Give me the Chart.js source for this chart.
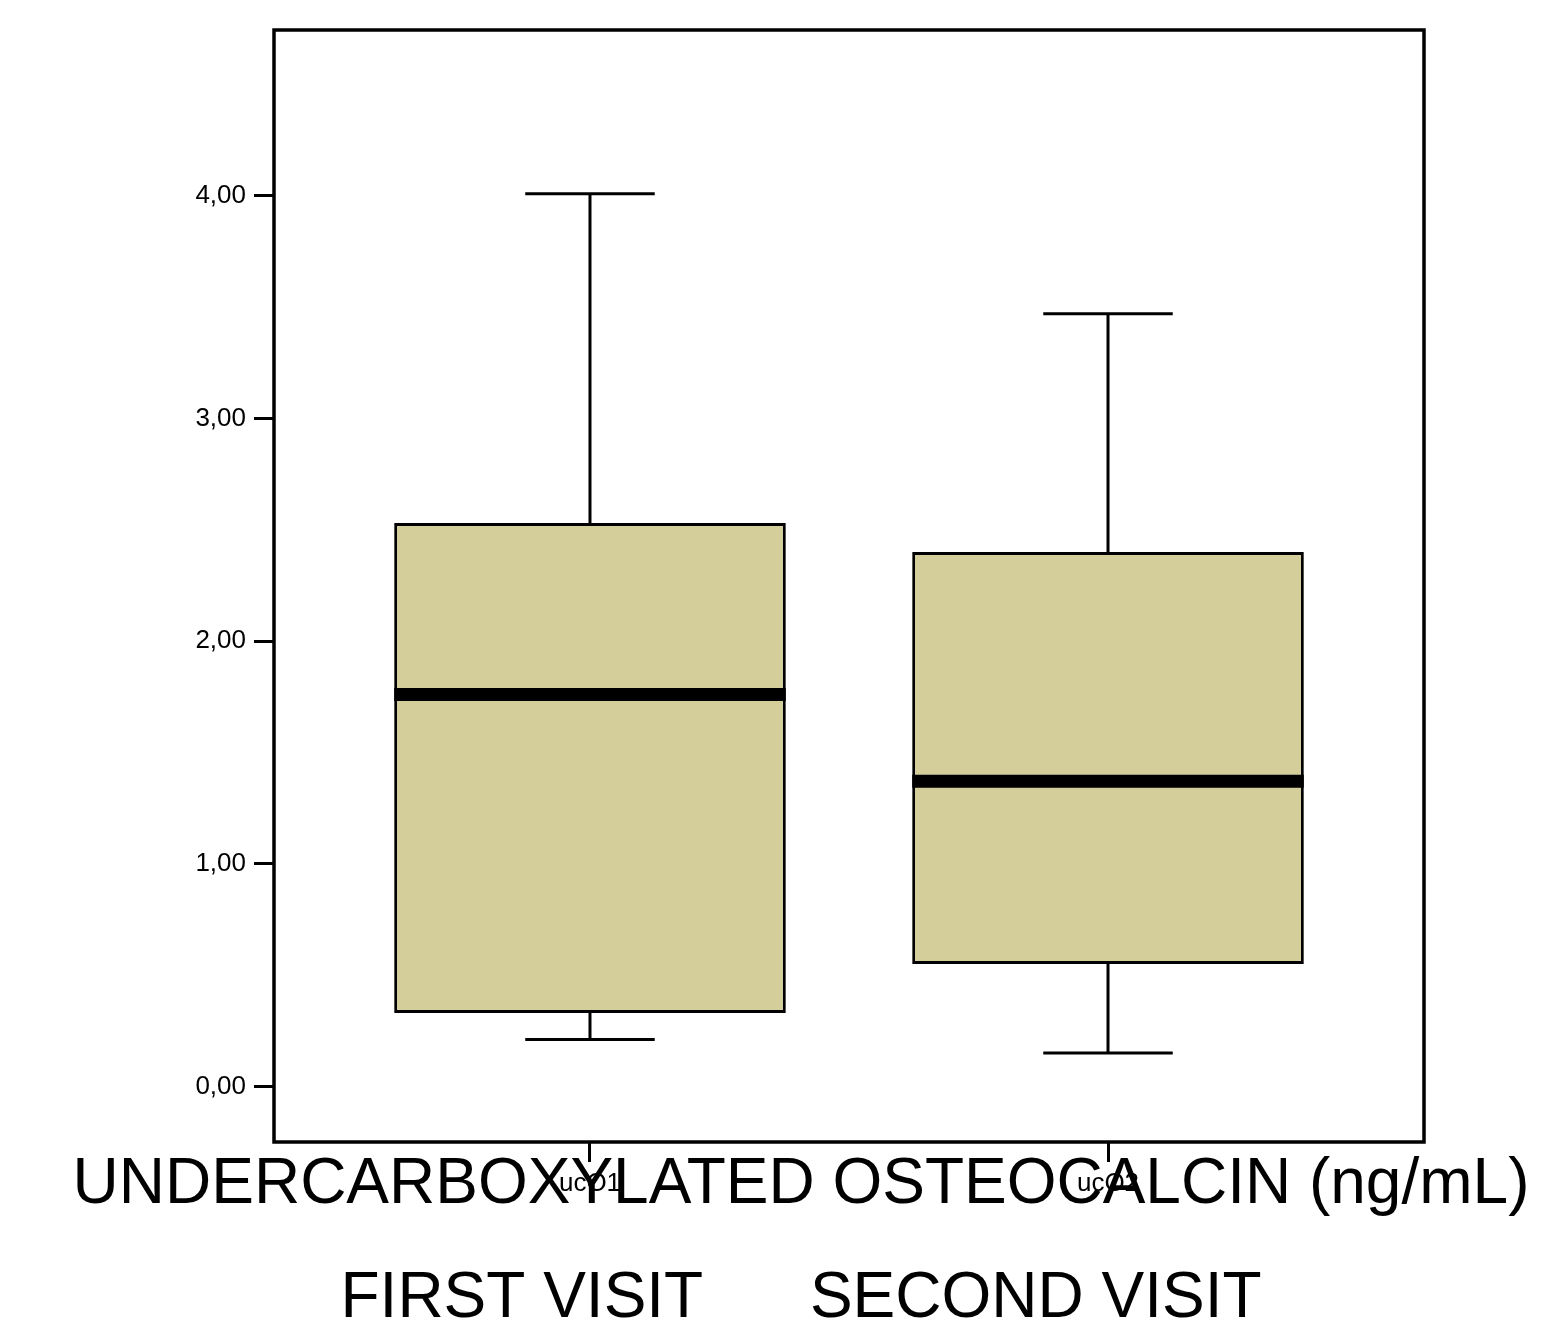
<!DOCTYPE html>
<html>
<head>
<meta charset="utf-8">
<title>Undercarboxylated osteocalcin</title>
<script src="https://cdn.jsdelivr.net/npm/chart.js@4/dist/chart.umd.min.js"></script>
<style>
  html, body { margin: 0; padding: 0; background: #ffffff; }
  canvas { display: block; }
</style>
</head>
<body>
<canvas id="chart" width="1561" height="1325"></canvas>
<script>
// Box-plot summary per visit (ng/mL)
const categories = ['ucO1', 'ucO2'];
const positions  = [1, 2];
const whiskerMin = [0.21, 0.15];
const quartile1  = [0.33, 0.55];
const medians    = [1.76, 1.37];
const quartile3  = [2.53, 2.40];
const whiskerMax = [4.01, 3.47];
const yTickValues = [0, 1, 2, 3, 4];

const titleLine1 = 'UNDERCARBOXYLATED OSTEOCALCIN (ng/mL)';
const titleLine2 = 'FIRST VISIT      SECOND VISIT';

const FONT = "'Liberation Sans', Arial, Helvetica, sans-serif";
Chart.defaults.font.family = FONT;
Chart.defaults.color = '#000000';

// Whiskers, caps and median lines drawn around the floating bars
const boxPlotPlugin = {
  id: 'boxPlotParts',
  beforeDatasetsDraw(chart) {
    const { ctx, scales: { x, y } } = chart;
    const capHalf = Math.abs(x.getPixelForValue(1.125) - x.getPixelForValue(1));
    ctx.save();
    ctx.strokeStyle = '#000000';
    ctx.lineWidth = 3;
    ctx.lineCap = 'butt';
    positions.forEach((p, i) => {
      const px = x.getPixelForValue(p);
      const yMax = y.getPixelForValue(whiskerMax[i]);
      const yMin = y.getPixelForValue(whiskerMin[i]);
      ctx.beginPath();
      ctx.moveTo(px, yMax);
      ctx.lineTo(px, y.getPixelForValue(quartile3[i]));
      ctx.moveTo(px, y.getPixelForValue(quartile1[i]));
      ctx.lineTo(px, yMin);
      ctx.moveTo(px - capHalf, yMax);
      ctx.lineTo(px + capHalf, yMax);
      ctx.moveTo(px - capHalf, yMin);
      ctx.lineTo(px + capHalf, yMin);
      ctx.stroke();
    });
    ctx.restore();
  },
  afterDatasetsDraw(chart) {
    const { ctx, scales: { y } } = chart;
    const meta = chart.getDatasetMeta(0);
    ctx.save();
    ctx.strokeStyle = '#000000';
    ctx.lineWidth = 13;
    ctx.lineCap = 'butt';
    meta.data.forEach((bar, i) => {
      const my = y.getPixelForValue(medians[i]);
      ctx.beginPath();
      ctx.moveTo(bar.x - bar.width / 2, my);
      ctx.lineTo(bar.x + bar.width / 2, my);
      ctx.stroke();
    });
    // frame around the plot area
    const a = chart.chartArea;
    ctx.lineWidth = 3.5;
    ctx.strokeRect(a.left, a.top, a.right - a.left, a.bottom - a.top);
    ctx.restore();
  }
};

new Chart(document.getElementById('chart'), {
  type: 'bar',
  data: {
    datasets: [{
      data: positions.map((p, i) => ({ x: p, y: [quartile1[i], quartile3[i]] })),
      backgroundColor: '#D3CE9A',
      borderColor: '#000000',
      borderWidth: 3,
      borderSkipped: false,
      barPercentage: 0.756,
      categoryPercentage: 1.0
    }]
  },
  options: {
    responsive: false,
    animation: false,
    devicePixelRatio: 1,
    layout: { padding: { left: 41, right: 0, top: 30, bottom: 0 } },
    plugins: {
      legend: { display: false },
      tooltip: { enabled: false },
      subtitle: {
        display: true,
        position: 'bottom',
        text: titleLine1,
        color: '#000000',
        font: { size: 64, weight: 'normal', lineHeight: 0.8125 },
        padding: { top: -43, bottom: 62 }
      },
      title: {
        display: true,
        position: 'bottom',
        text: titleLine2,
        color: '#000000',
        font: { size: 64, weight: 'normal', lineHeight: 0.8125 },
        padding: { top: 0, bottom: 0 }
      }
    },
    scales: {
      x: {
        type: 'linear',
        position: 'bottom',
        min: 0.39,
        max: 2.61,
        offset: false,
        afterBuildTicks: (scale) => { scale.ticks = positions.map(v => ({ value: v })); },
        afterFit: (scale) => { scale.height = 60; },
        ticks: {
          autoSkip: false,
          maxRotation: 0,
          minRotation: 0,
          padding: 6,
          color: '#000000',
          font: { size: 26 },
          callback: (value, index) => categories[index]
        },
        grid: {
          offset: false,
          drawOnChartArea: false,
          drawTicks: true,
          tickLength: 20,
          tickWidth: 3,
          tickColor: '#000000'
        },
        border: { display: false }
      },
      y: {
        type: 'linear',
        position: 'left',
        min: -0.25,
        max: 4.745,
        beginAtZero: false,
        afterBuildTicks: (scale) => { scale.ticks = yTickValues.map(v => ({ value: v })); },
        afterFit: (scale) => { scale.width = 233; },
        ticks: {
          padding: 8,
          color: '#000000',
          font: { size: 26 },
          callback: (value) => Number(value).toFixed(2).replace('.', ',')
        },
        grid: {
          drawOnChartArea: false,
          drawTicks: true,
          tickLength: 20,
          tickWidth: 3,
          tickColor: '#000000'
        },
        border: { display: false }
      },
      yRight: {
        type: 'linear',
        position: 'right',
        min: -0.25,
        max: 4.745,
        display: true,
        afterFit: (scale) => { scale.width = 137; },
        ticks: { display: false },
        grid: { display: false, drawTicks: false },
        border: { display: false }
      }
    }
  },
  plugins: [boxPlotPlugin]
});
</script>
</body>
</html>
